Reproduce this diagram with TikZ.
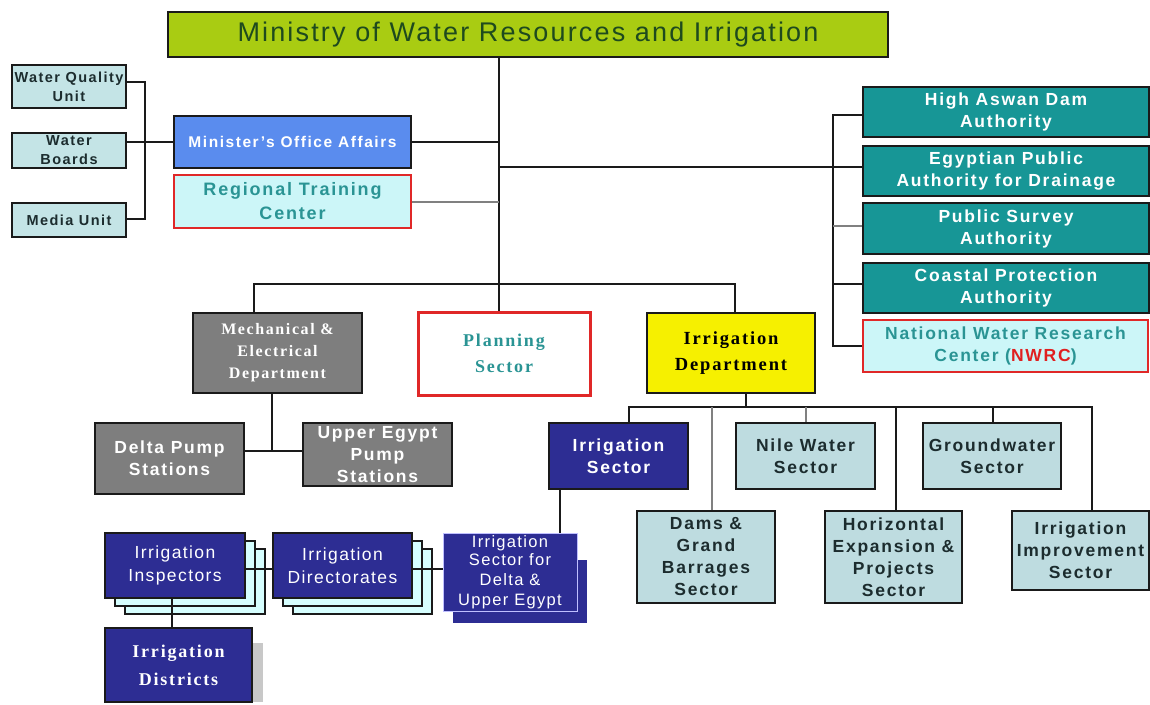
\documentclass[tikz,border=0pt]{standalone}
\usepackage{fontspec}
\setmainfont{Liberation Sans}
\newfontfamily\sansLS[LetterSpace=10]{Liberation Sans}
\newfontfamily\sansPL[LetterSpace=8]{Liberation Sans}
\newfontfamily\serifLS[LetterSpace=10]{Liberation Serif}
\definecolor{boxline}{HTML}{1A1A1A}
\definecolor{mingreen}{HTML}{A9CC12}
\definecolor{mintext}{HTML}{1E4A1E}
\definecolor{lcyan}{HTML}{C4E4E6}
\definecolor{darktext}{HTML}{1C2C2E}
\definecolor{minblue}{HTML}{5A8CEE}
\definecolor{paletc}{HTML}{CCF6F8}
\definecolor{redline}{HTML}{E02828}
\definecolor{tealtext}{HTML}{2A9494}
\definecolor{tealbox}{HTML}{179696}
\definecolor{grbox}{HTML}{7E7E7E}
\definecolor{ydept}{HTML}{F6F000}
\definecolor{navy}{HTML}{2D2D93}
\definecolor{lblue}{HTML}{BEDCE0}
\definecolor{backcyan}{HTML}{D6FFFF}
\definecolor{nwrcred}{HTML}{E02020}
\definecolor{grline}{HTML}{808080}
\definecolor{shadowgr}{HTML}{C8C8C8}
\newcommand\bx[7]{\node[#2, minimum width={(#5-#3)*1pt}, minimum height={(#6-#4)*1pt}] (#1) at ({(#3+#5)/2},{(#4+#6)/2}) {#7};}
\tikzset{
  base/.style={draw=boxline, line width=1.8pt, inner sep=0pt, align=center},
  ministrybox/.style={base, fill=mingreen, text=mintext, font=\sansPL\fontsize{27}{30}\selectfont},
  cyanbox/.style={base, fill=lcyan, text=darktext, font=\sansLS\bfseries\fontsize{14.5}{19}\selectfont},
  minbox/.style={base, fill=minblue, text=white, font=\sansLS\bfseries\fontsize{15.5}{20}\selectfont},
  redbox/.style={base, draw=redline, line width=2.2pt, fill=paletc, text=tealtext, font=\sansLS\bfseries\fontsize{18}{24}\selectfont},
  tealbx/.style={base, fill=tealbox, text=white, font=\sansLS\bfseries\fontsize{17.5}{22}\selectfont},
  nwrcbox/.style={base, draw=redline, line width=2.2pt, fill=paletc, text=tealtext, font=\sansLS\bfseries\fontsize{17.5}{22}\selectfont},
  graybox/.style={base, fill=grbox, text=white, font=\sansLS\bfseries\fontsize{17.5}{22}\selectfont},
  grayserif/.style={base, fill=grbox, text=white, font=\serifLS\bfseries\fontsize{16}{22}\selectfont},
  planbox/.style={base, draw=redline, line width=3pt, fill=white, text=tealtext, font=\serifLS\bfseries\fontsize{18}{26}\selectfont},
  deptbox/.style={base, fill=ydept, text=black, font=\serifLS\bfseries\fontsize{18.5}{26}\selectfont},
  navybold/.style={base, fill=navy, text=white, font=\sansLS\bfseries\fontsize{17.5}{22}\selectfont},
  navyplain/.style={base, fill=navy, text=white, font=\sansPL\fontsize{17.5}{23}\selectfont},
  navysmall/.style={base, draw=blue!25!white, line width=1pt, fill=navy, text=white, font=\sansPL\fontsize{16.5}{20}\selectfont},
  navyback/.style={base, draw=none, fill=navy},
  backbox/.style={base, fill=backcyan},
  navyserif/.style={base, fill=navy, text=white, font=\serifLS\bfseries\fontsize{18}{28}\selectfont},
  shadowbox/.style={draw=none, fill=shadowgr, inner sep=0pt},
  lbbox/.style={base, fill=lblue, text=darktext, font=\sansLS\bfseries\fontsize{17.5}{22}\selectfont},
  conn/.style={draw=boxline, line width=2.2pt},
  gconn/.style={draw=grline, line width=1.6pt},
}
\begin{document}
\begin{tikzpicture}[x=1pt, y=-1pt]
\useasboundingbox[fill=white] (0,0) rectangle (1150,704);
% top
\bx{ministry}{ministrybox}{168}{12}{888}{57}{Ministry of Water Resources and Irrigation}
% left units
\bx{wqu}{cyanbox}{12}{65}{126}{108}{Water Quality\\Unit}
\bx{wboards}{cyanbox}{12}{133}{126}{168}{Water\\Boards}
\bx{media}{cyanbox}{12}{203}{126}{237}{Media Unit}
\bx{minister}{minbox}{174}{116}{411}{168}{Minister’s Office Affairs}
\bx{regional}{redbox}{174}{175}{411}{228}{Regional Training\\Center}
% right authorities
\bx{aswan}{tealbx}{863}{87}{1149}{137}{High Aswan Dam\\Authority}
\bx{egypt}{tealbx}{863}{146}{1149}{196}{Egyptian Public\\Authority for Drainage}
\bx{survey}{tealbx}{863}{203}{1149}{254}{Public Survey\\Authority}
\bx{coastal}{tealbx}{863}{263}{1149}{313}{Coastal Protection\\Authority}
\bx{nwrc}{nwrcbox}{863}{320}{1148}{372}{National Water Research\\Center ({\color{nwrcred}NWRC})}
% middle row
\bx{mech}{grayserif}{193}{313}{362}{393}{Mechanical \&\\Electrical\\Department}
\bx{planning}{planbox}{418}{312}{590}{395}{Planning\\Sector}
\bx{irrdept}{deptbox}{647}{313}{815}{393}{Irrigation\\Department}
% pump stations
\bx{deltapump}{graybox}{95}{423}{244}{494}{Delta Pump\\Stations}
\bx{upperpump}{graybox}{303}{423}{452}{486}{Upper Egypt\\Pump\\Stations}
% sectors
\bx{irrsec}{navybold}{549}{423}{688}{489}{Irrigation\\Sector}
\bx{nile}{lbbox}{736}{423}{875}{489}{Nile Water\\Sector}
\bx{ground}{lbbox}{923}{423}{1061}{489}{Groundwater\\Sector}
\bx{dams}{lbbox}{637}{511}{775}{603}{Dams \&\\Grand\\Barrages\\Sector}
\bx{horiz}{lbbox}{825}{511}{962}{603}{Horizontal\\Expansion \&\\Projects\\Sector}
\bx{improve}{lbbox}{1012}{511}{1149}{590}{Irrigation\\Improvement\\Sector}
% bottom left stacks
\bx{inspB2}{backbox}{125}{549}{265}{614}{}
\bx{inspB1}{backbox}{115}{541}{255}{606}{}
\bx{insp}{navyplain}{105}{533}{245}{598}{Irrigation\\Inspectors}
\bx{dirB2}{backbox}{293}{549}{432}{614}{}
\bx{dirB1}{backbox}{283}{541}{422}{606}{}
\bx{dir}{navyplain}{273}{533}{412}{598}{Irrigation\\Directorates}
\bx{sdeltaB}{navyback}{453}{560}{587}{623}{}
\bx{sdelta}{navysmall}{443}{533}{577}{611}{\raisebox{-2pt}{Irrigation}\\Sector for\\Delta \&\\Upper Egypt}
\bx{districtsS}{shadowbox}{116}{643}{263}{702}{}
\bx{districts}{navyserif}{105}{628}{252}{702}{Irrigation\\Districts}
% junction coordinates
\coordinate (tA) at (499,142);
\coordinate (tB) at (499,167);
\coordinate (tC) at (499,202);
\coordinate (tD) at (499,284);
\coordinate (lvT) at (145,82);
\coordinate (lvB) at (145,219);
\coordinate (rvT) at (833,115);
\coordinate (rvS) at (833,226);
\coordinate (rvC) at (833,284);
\coordinate (rvB) at (833,346);
\coordinate (bL) at (254,284);
\coordinate (bR) at (735,284);
\coordinate (mp) at (272,451);
\coordinate (dj) at (746,407);
\coordinate (dL) at (629,407);
\coordinate (dDam) at (712,407);
\coordinate (dNile) at (806,407);
\coordinate (dHor) at (896,407);
\coordinate (dGr) at (993,407);
\coordinate (dR) at (1092,407);
\coordinate (sv) at (560,500);
\coordinate (hy) at (0,569);
\coordinate (dv) at (172,600);
% connectors
\draw[conn] (ministry.south -| tA) -- (planning.north -| tA);
\draw[conn] (minister.east |- tA) -- (tA);
\draw[gconn] (regional.east |- tC) -- (tC);
\draw[conn] (tB) -- (tB -| egypt.west);
\draw[conn] (rvT -| aswan.west) -- (rvT) -- (rvB) -- (rvB -| nwrc.west);
\draw[gconn] (rvS) -- (rvS -| survey.west);
\draw[conn] (rvC) -- (rvC -| coastal.west);
\draw[conn] (wboards.east |- tA) -- (minister.west |- tA);
\draw[conn] (wqu.east |- lvT) -- (lvT) -- (lvB) -- (lvB -| media.east);
\draw[conn] (bL |- mech.north) -- (bL) -- (bR) -- (bR |- irrdept.north);
\draw[conn] (mech.south -| mp) -- (mp);
\draw[conn] (deltapump.east |- mp) -- (upperpump.west |- mp);
\draw[conn] (irrdept.south -| dj) -- (dj);
\draw[conn] (dL |- irrsec.north) -- (dL) -- (dR) -- (dR |- improve.north);
\draw[gconn] (dDam) -- (dDam |- dams.north);
\draw[gconn] (dNile) -- (dNile |- nile.north);
\draw[conn] (dHor) -- (dHor |- horiz.north);
\draw[conn] (dGr) -- (dGr |- ground.north);
\draw[conn] (irrsec.south -| sv) -- (sdelta.north -| sv);
\draw[conn] (insp.east |- hy) -- (dir.west |- hy);
\draw[conn] (dir.east |- hy) -- (sdelta.west |- hy);
\draw[conn] (insp.south -| dv) -- (districts.north -| dv);
\end{tikzpicture}
\end{document}
